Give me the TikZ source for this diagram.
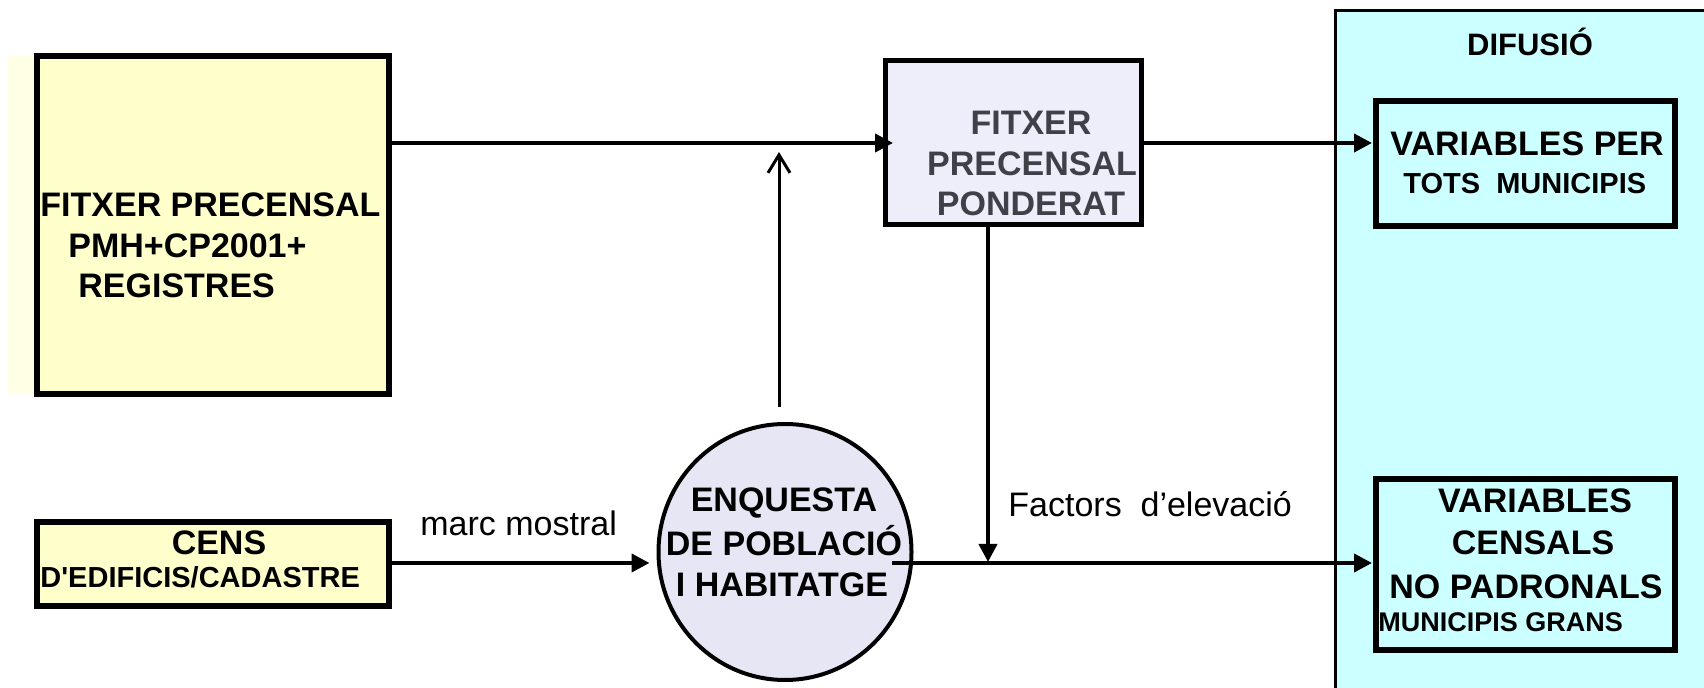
\documentclass[tikz,border=0pt]{standalone}
\usepackage{fontspec}
\newfontfamily\arial{Liberation Sans}
\usetikzlibrary{arrows.meta,shapes.geometric}
\definecolor{boxyel}{HTML}{FFFFCC}
\definecolor{stripyel}{HTML}{FFFFE6}
\definecolor{pondfill}{HTML}{EEEEFA}
\definecolor{pondtext}{HTML}{404048}
\definecolor{circfill}{HTML}{E6E6F5}
\definecolor{cyanp}{HTML}{CCFFFF}
\begin{document}
\begin{tikzpicture}[x=0.5pt,y=-0.5pt,
  conn/.style={line width=2pt,-{Triangle[length=9pt,width=9pt]}},
  box/.style={draw,rectangle,inner sep=0pt,outer sep=0pt},
  bt/.style={inner sep=0pt,font=\arial\bfseries\fontsize{#1}{20}\selectfont},
  bt/.default=17,
  rt/.style={inner sep=0pt,font=\arial\fontsize{17}{20}\selectfont}]
\useasboundingbox (0,0) rectangle (1704,688);

% diffusion panel
\fill[cyanp] (1335,11) rectangle (1704,688);
\draw[line width=1.5pt] (1335,688) -- (1335,11) -- (1704,11);
\node[bt=15.5,anchor=base] (dif) at (1530,56) {DIFUSIÓ};

% big yellow box
\fill[stripyel] (8,56) rectangle (37,393);
\node[box,fill=boxyel,line width=3pt,minimum width=176pt,minimum height=169pt] (big) at (213,225) {};
\node[bt,anchor=base west] (b1) at (40,217) {FITXER PRECENSAL};
\node[bt,anchor=base west] (b2) at (68,258) {PMH+CP2001+};
\node[bt,anchor=base west] (b3) at (78,298) {REGISTRES};

% weighted file
\node[box,fill=pondfill,line width=2.5pt,minimum width=128pt,minimum height=82pt] (pond) at (1013,143) {};
\node[bt,anchor=base,text=pondtext] (p1) at (1031,135) {FITXER};
\node[bt,anchor=base,text=pondtext] (p2) at (1032,176) {PRECENSAL};
\node[bt,anchor=base,text=pondtext] (p3) at (1031,216) {PONDERAT};

% cens box
\node[box,fill=boxyel,line width=3pt,minimum width=176pt,minimum height=42.25pt] (cens) at (213,564) {};
\node[bt,anchor=base] (c1) at (219,555) {CENS};
\node[bt=14.5,anchor=base west] (c2) at (40,588) {D'EDIFICIS/CADASTRE};

% survey circle
\node[draw,ellipse,fill=circfill,line width=2pt,inner sep=0pt,outer sep=0pt,minimum width=126.5pt,minimum height=128pt] (circ) at (785,552) {};
\node[bt,anchor=base] (e1) at (784,512) {ENQUESTA};
\node[bt,anchor=base] (e2) at (784,556) {DE POBLACIÓ};
\node[bt,anchor=base] (e3) at (782,597) {I HABITATGE};

% output boxes
\node[box,line width=3pt,minimum width=149.5pt,minimum height=62.5pt] (vper) at (1525.5,163.5) {};
\node[bt,anchor=base west] (v1) at (1390,156) {VARIABLES PER};
\node[bt=14.5,anchor=base west] (v2) at (1403,194) {TOTS\ \ MUNICIPIS};

\node[box,line width=3pt,minimum width=149.5pt,minimum height=85.5pt] (vcens) at (1525.5,564.5) {};
\node[bt,anchor=base] (w1) at (1535,513) {VARIABLES};
\node[bt,anchor=base] (w2) at (1533,555) {CENSALS};
\node[bt,anchor=base] (w3) at (1526,599) {NO PADRONALS};
\node[bt=13.5,anchor=base west] (w4) at (1378,632) {MUNICIPIS GRANS};

% labels
\node[rt,anchor=base west] (lm) at (420,536) {marc mostral};
\node[rt,anchor=base west] (lf) at (1008,517) {Factors\ \ d’elevació};

% connectors
\draw[conn,shorten >=-4pt] (big.east |- pond.west) -- (pond.west);
\draw[conn,shorten >=2pt] (pond.east) -- (pond.east -| vper.west);
\draw[conn,shorten >=4.5pt] (cens.east |- 0,563) -- (circ.west |- 0,563);
\coordinate (cout) at (892,563);
\draw[conn,shorten >=2pt] (cout) -- (cout -| vcens.west);
\coordinate (jn) at (988,563);
\draw[conn,shorten >=0.5pt] (jn |- pond.south) -- (jn);
\draw[line width=1.5pt,-{Straight Barb[length=9pt,width=11pt]},shorten >=4.5pt]
  ([xshift=-3pt,yshift=8.5pt]circ.north) -- ([xshift=-3pt]circ.north |- pond.west);
\end{tikzpicture}
\end{document}
